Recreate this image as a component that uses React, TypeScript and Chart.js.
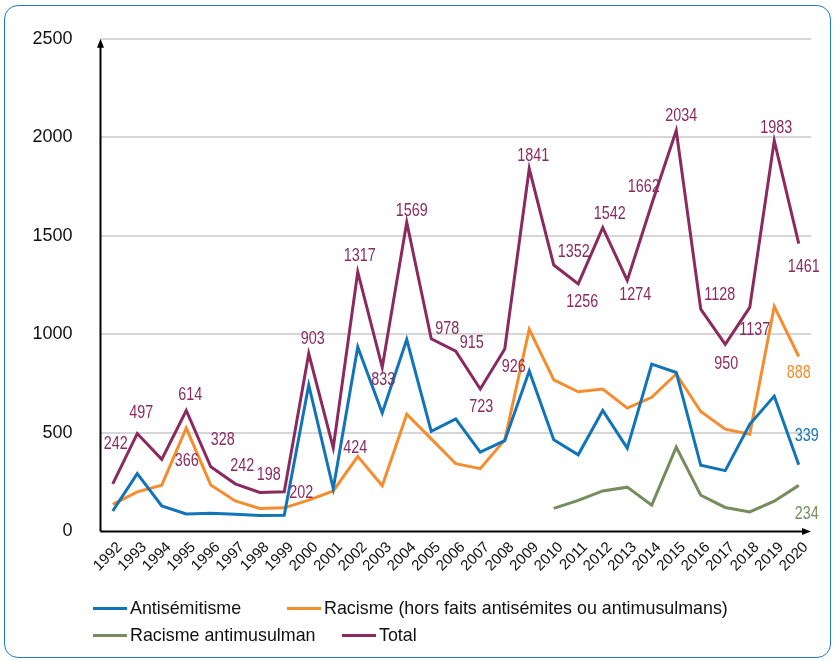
import React, { useEffect, useRef } from 'react';
import Chart from 'chart.js/auto';

const years = ['1992','1993','1994','1995','1996','1997','1998','1999','2000','2001','2002','2003','2004','2005','2006','2007','2008','2009','2010','2011','2012','2013','2014','2015','2016','2017','2018','2019','2020'];
const antisemitisme = [104,294,130,89,92,87,81,82,744,218,936,601,974,508,571,403,461,815,466,389,614,423,849,807,336,309,544,687,339];
const racisme = [138,201,235,525,236,155,117,120,159,206,381,232,595,470,344,319,465,1026,769,709,723,626,681,799,609,519,494,1142,888];
const antimusulman = [null,null,null,null,null,null,null,null,null,null,null,null,null,null,null,null,null,null,117,158,206,225,134,428,184,122,99,154,234];
const total = [242,497,366,614,328,242,198,202,903,424,1317,833,1569,978,915,723,926,1841,1352,1256,1542,1274,1662,2034,1128,950,1137,1983,1461];
const yTicks = [0, 500, 1000, 1500, 2000, 2500];

// label placement (pixels from the point), kept apart from the data
const totalLabelOffsets = [[3,-41],[4,-21],[25,1],[4,-16],[12,-28],[7,-19],[9,-18],[17,0],[4,-15],[22,-1],[2,-17],[1,12],[5,-12],[16,-11],[16,-9],[1,17],[9,17],[4,-14],[20,-14],[4,17],[7,-14],[8,14],[-8,-18],[5,-15],[19,-15],[1,19],[5,22],[2,-14],[5,23]];
const lastLabelOffsets = { anti: [8,-30], rac: [0,16], mus: [8,28] };

const BLUE = '#1274b8';
const ORANGE = '#f58d2e';
const GREEN = '#758c5c';
const PURPLE = '#8a2a5e';
const SANS = '"Liberation Sans", Arial, sans-serif';

const axisPlugin = {
  id: 'arrowAxes',
  beforeDatasetsDraw(chart: any) {
    const { ctx, chartArea } = chart;
    const { left, right, top, bottom } = chartArea;
    ctx.save();
    ctx.strokeStyle = '#000';
    ctx.fillStyle = '#000';
    ctx.lineWidth = 2;
    ctx.beginPath();
    ctx.moveTo(left, bottom);
    ctx.lineTo(left, top + 6);
    ctx.moveTo(left, bottom);
    ctx.lineTo(right - 6, bottom);
    ctx.stroke();
    ctx.beginPath();
    ctx.moveTo(left, top);
    ctx.lineTo(left - 3.5, top + 9);
    ctx.lineTo(left + 3.5, top + 9);
    ctx.closePath();
    ctx.fill();
    ctx.beginPath();
    ctx.moveTo(right, bottom);
    ctx.lineTo(right - 9, bottom - 3.5);
    ctx.lineTo(right - 9, bottom + 3.5);
    ctx.closePath();
    ctx.fill();
    ctx.restore();
  },
};

const labelPlugin = {
  id: 'valueLabels',
  afterDatasetsDraw(chart: any) {
    const { ctx } = chart;
    const drawAt = (dsIndex: number, i: number, off: number[], color: string, text: string) => {
      const el = chart.getDatasetMeta(dsIndex).data[i];
      if (!el) return;
      ctx.save();
      ctx.font = '17.5px ' + SANS;
      ctx.textAlign = 'center';
      ctx.textBaseline = 'middle';
      ctx.fillStyle = color;
      ctx.translate(el.x + off[0], el.y + off[1] + 1);
      ctx.scale(0.82, 1);
      ctx.fillText(text, 0, 0);
      ctx.restore();
    };
    total.forEach((v, i) => drawAt(3, i, totalLabelOffsets[i], PURPLE, String(v)));
    const last = years.length - 1;
    drawAt(0, last, lastLabelOffsets.anti, BLUE, String(antisemitisme[last]));
    drawAt(1, last, lastLabelOffsets.rac, ORANGE, String(racisme[last]));
    drawAt(2, last, lastLabelOffsets.mus, GREEN, String(antimusulman[last]));
  },
};

const legendItems = [
  [{ label: 'Antisémitisme', color: BLUE, left: 93 }, { label: 'Racisme (hors faits antisémites ou antimusulmans)', color: ORANGE, left: 287 }],
  [{ label: 'Racisme antimusulman', color: GREEN, left: 93 }, { label: 'Total', color: PURPLE, left: 342 }],
];

export default function App() {
  const ref = useRef<HTMLCanvasElement>(null);
  useEffect(() => {
    document.body.style.margin = '0';
    const line = (label: string, data: any[], color: string) => ({
      label, data, borderColor: color, backgroundColor: color, borderWidth: 3,
      pointRadius: 0, pointHoverRadius: 0, tension: 0, fill: false, spanGaps: false,
      borderJoinStyle: 'miter' as const,
    });
    const chart = new Chart(ref.current as HTMLCanvasElement, {
      type: 'line',
      data: {
        labels: years,
        datasets: [
          line('Antisémitisme', antisemitisme, BLUE),
          line('Racisme (hors faits antisémites ou antimusulmans)', racisme, ORANGE),
          line('Racisme antimusulman', antimusulman, GREEN),
          line('Total', total, PURPLE),
        ],
      },
      options: {
        responsive: false,
        animation: false,
        events: [],
        layout: { padding: { left: 0, right: 24, top: 36.5, bottom: 69.5 } },
        plugins: { legend: { display: false }, tooltip: { enabled: false } },
        scales: {
          x: {
            type: 'category',
            offset: true,
            grid: { display: false, drawTicks: false },
            border: { display: false },
            ticks: {
              autoSkip: false, minRotation: 45, maxRotation: 45, padding: 7, labelOffset: 7,
              color: '#111', font: { family: SANS, size: 15 },
            },
            afterFit: (s: any) => { s.height = 60; },
          },
          y: {
            min: 0, max: 2500,
            afterBuildTicks: (s: any) => { s.ticks = yTicks.map((v) => ({ value: v })); },
            grid: {
              color: (c: any) => (c.tick && c.tick.value === 0 ? 'rgba(0,0,0,0)' : '#d6d6d6'),
              lineWidth: 2, drawTicks: false,
            },
            border: { display: false },
            ticks: {
              padding: 28, color: '#111', font: { family: SANS, size: 18 },
              callback: (v: any) => String(v),
            },
            afterFit: (s: any) => { s.width = 100.5; },
          },
        },
      },
      plugins: [axisPlugin, labelPlugin],
    });
    return () => chart.destroy();
  }, []);

  return (
    <div style={{ position: 'fixed', left: 0, top: 0, width: 835, height: 661, background: '#fff', overflow: 'hidden' }}>
      <div style={{ position: 'absolute', left: 4, top: 5, width: 827, height: 653, border: '1.5px solid #1f7bc3', borderRadius: 14, boxSizing: 'border-box' }} />
      <canvas ref={ref} width={835} height={661} style={{ position: 'absolute', left: 0, top: 0, display: 'block' }} />
      {legendItems.map((row, r) => row.map((it) => (
        <div key={it.label} style={{ position: 'absolute', left: it.left, top: (r === 0 ? 608 : 635) - 12, height: 24, display: 'flex', alignItems: 'center', fontFamily: SANS, fontSize: 18.5, color: '#111', whiteSpace: 'nowrap' }}>
          <span style={{ display: 'inline-block', width: 34, height: 3, background: it.color, marginRight: 3 }} />
          <span style={{ display: 'inline-block', transform: 'scaleX(0.965)', transformOrigin: 'left center' }}>{it.label}</span>
        </div>
      )))}
    </div>
  );
}
